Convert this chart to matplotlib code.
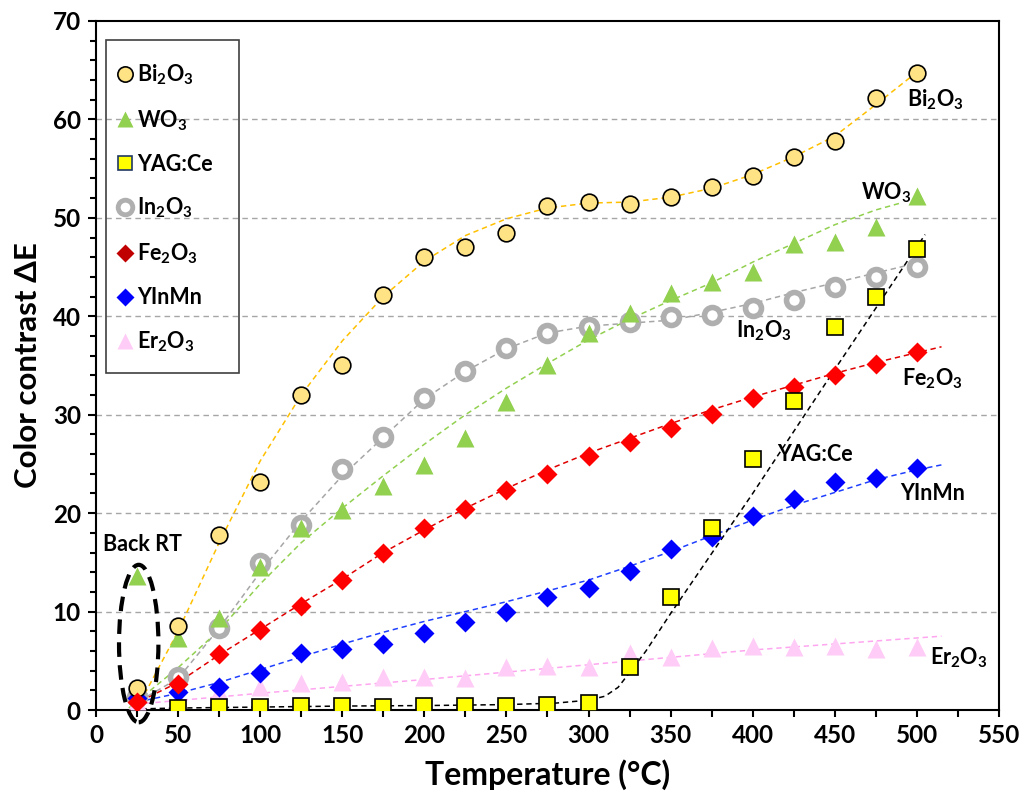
import numpy as np
import matplotlib
matplotlib.use('Agg')
import matplotlib.pyplot as plt
from matplotlib.lines import Line2D
from matplotlib.patches import Ellipse, Rectangle

plt.rcParams['font.family'] = ['Lato', 'DejaVu Sans']
plt.rcParams['font.weight'] = 'bold'
plt.rcParams['mathtext.fontset'] = 'custom'
plt.rcParams['mathtext.rm'] = 'Lato:bold'
plt.rcParams['mathtext.it'] = 'Lato:bold'
plt.rcParams['mathtext.bf'] = 'Lato:bold'

# measured points (temperature in C, delta E)
temps = [25, 50, 75, 100, 125, 150, 175, 200, 225, 250, 275, 300, 325, 350, 375, 400, 425, 450, 475, 500]
bi2o3 = [2.2, 8.5, 17.8, 23.2, 32.0, 35.0, 42.2, 46.0, 47.0, 48.5, 51.2, 51.6, 51.4, 52.1, 53.1, 54.2, 56.2, 57.8, 62.2, 64.7]
wo3 = [13.6, 7.3, 9.3, 14.5, 18.5, 20.3, 22.8, 24.9, 27.6, 31.3, 35.0, 38.3, 40.3, 42.4, 43.5, 44.5, 47.3, 47.5, 49.1, 52.2]
in2o3 = [1.3, 3.4, 8.3, 14.9, 18.8, 24.5, 27.7, 31.7, 34.4, 36.8, 38.3, 38.9, 39.4, 39.9, 40.1, 40.8, 41.7, 43.0, 44.0, 45.0]
fe2o3 = [0.8, 2.6, 5.7, 8.1, 10.6, 13.2, 15.9, 18.5, 20.4, 22.3, 24.0, 25.8, 27.2, 28.6, 30.1, 31.7, 32.8, 34.0, 35.2, 36.4]
yinmn = [1.2, 1.8, 2.3, 3.8, 5.8, 6.2, 6.7, 7.8, 8.9, 10.0, 11.5, 12.4, 14.1, 16.4, 17.6, 19.7, 21.4, 23.2, 23.6, 24.6]
er2o3 = [0.9, 1.2, 1.9, 2.3, 2.7, 2.8, 3.4, 3.4, 3.3, 4.4, 4.5, 4.4, 5.8, 5.4, 6.3, 6.5, 6.4, 6.5, 6.2, 6.4]
yag_temps = [50, 75, 100, 125, 150, 175, 200, 225, 250, 275, 300, 325, 350, 375, 400, 425, 450, 475, 500]
yag = [0.2, 0.3, 0.3, 0.4, 0.4, 0.35, 0.4, 0.4, 0.4, 0.5, 0.75, 4.4, 11.5, 18.5, 25.5, 31.4, 38.9, 42.0, 46.8]

# trend lines
bi_tr_t = [27, 50, 75, 100, 125, 150, 175, 200, 225, 250, 275, 300, 325, 350, 375, 400, 425, 450, 475, 500]
bi_tr = [0.8, 8.0, 17.0, 25.3, 32.0, 37.5, 42.0, 45.6, 48.2, 49.9, 51.0, 51.5, 51.6, 52.1, 53.0, 54.4, 56.2, 58.3, 61.5, 64.8]
wo_tr_t = [20, 50, 75, 100, 125, 150, 175, 200, 225, 250, 275, 300, 325, 350, 375, 400, 425, 450, 475, 490]
wo_tr = [0.2, 4.3, 8.1, 12.8, 17.0, 20.5, 23.8, 27.0, 30.0, 32.7, 35.2, 37.6, 39.7, 41.6, 43.4, 45.5, 47.4, 49.3, 50.8, 51.5]
in_tr_t = [22, 50, 75, 100, 125, 150, 175, 200, 225, 250, 275, 300, 325, 350, 375, 400, 425, 450, 475, 500]
in_tr = [0.5, 3.2, 8.3, 14.0, 19.2, 23.8, 27.7, 31.6, 34.4, 36.7, 38.3, 39.0, 39.3, 39.6, 40.4, 41.3, 42.4, 43.4, 44.4, 45.4]
fe_tr_t = [22, 50, 75, 100, 125, 150, 175, 200, 225, 250, 275, 300, 325, 350, 375, 400, 425, 450, 475, 500, 515]
fe_tr = [0.5, 2.8, 5.6, 8.2, 10.8, 13.3, 16.0, 18.3, 20.5, 22.5, 24.4, 26.1, 27.6, 29.1, 30.5, 31.8, 33.0, 34.2, 35.3, 36.3, 36.9]
yi_tr_t = [25, 50, 75, 100, 125, 150, 175, 200, 225, 250, 275, 300, 325, 350, 375, 400, 425, 450, 475, 500, 515]
yi_tr = [0.8, 1.7, 2.8, 4.1, 5.4, 6.7, 7.9, 9.0, 10.0, 11.0, 12.1, 13.2, 14.6, 16.1, 17.7, 19.3, 20.8, 22.1, 23.4, 24.4, 24.9]
er_tr_t = [25, 100, 200, 300, 400, 515]
er_tr = [0.6, 1.7, 3.1, 4.6, 6.1, 7.5]
yag_tr_t = [22, 50, 100, 150, 200, 250, 280, 300, 310, 318, 325, 335, 350, 400, 450, 505]
yag_tr = [0.1, 0.2, 0.3, 0.4, 0.45, 0.55, 0.7, 1.0, 1.4, 2.3, 3.8, 6.0, 9.8, 22.0, 34.6, 48.3]

fig = plt.figure(figsize=(10.27, 8), dpi=100)
ax = fig.add_axes([0.0935, 0.1125, 0.8792, 0.8613])

dash = (0, (3.5, 2.5))
lw = 1.1
ax.plot(er_tr_t, er_tr, color='#FFA6F0', lw=lw, ls=dash, zorder=2)
ax.plot(yi_tr_t, yi_tr, color='#1F3FFF', lw=lw, ls=dash, zorder=2)
ax.plot(fe_tr_t, fe_tr, color='#E00000', lw=lw, ls=dash, zorder=2)
ax.plot(in_tr_t, in_tr, color='#A6A6A6', lw=lw, ls=dash, zorder=2)
ax.plot(wo_tr_t, wo_tr, color='#92D050', lw=lw, ls=dash, zorder=2)
ax.plot(bi_tr_t, bi_tr, color='#FFC000', lw=lw, ls=dash, zorder=2)
ax.plot(yag_tr_t, yag_tr, color='#000000', lw=lw, ls=dash, zorder=2)

ax.plot(temps, er2o3, ls='none', marker='^', ms=13, mfc='#FFCCF7', mec='none', zorder=3)
ax.plot(temps, in2o3, ls='none', marker='o', ms=11.5, mfc='white', mec='#AFAFAF', mew=4.0, zorder=3)
ax.plot(temps, yinmn, ls='none', marker='D', ms=10, mfc='#0000FF', mec='none', zorder=3)
ax.plot(temps, wo3, ls='none', marker='^', ms=13, mfc='#92D050', mec='none', zorder=4)
ax.plot(temps, bi2o3, ls='none', marker='o', ms=12, mfc='#FFE385', mec='black', mew=1.2, zorder=4)
ax.plot(temps, fe2o3, ls='none', marker='D', ms=10, mfc='#FF0000', mec='none', zorder=4)
ax.plot(yag_temps, yag, ls='none', marker='s', ms=11, mfc='#FFFF00', mec='black', mew=1.2, zorder=5)

ax.set_xlim(0, 550)
ax.set_ylim(0, 70)
ax.set_xticks([0, 50, 100, 150, 200, 250, 300, 350, 400, 450, 500, 550])
ax.set_xticks([25, 75, 125, 175, 225, 275, 325, 375, 425, 475, 525], minor=True)
ax.set_yticks([0, 10, 20, 30, 40, 50, 60, 70])
ax.set_yticks(np.arange(2, 70, 2), minor=True)
ax.tick_params(axis='both', which='major', labelsize=17.5, width=1.5, length=6, direction='out', pad=5)
ax.tick_params(axis='y', which='minor', width=1.5, length=4, direction='out')
ax.tick_params(axis='x', which='minor', width=1.5, length=5, direction='out')
ax.tick_params(axis='x', which='major', length=5)
for lab in ax.get_xticklabels() + ax.get_yticklabels():
    lab.set_fontweight('bold')
for s in ax.spines.values():
    s.set_linewidth(1.5)

for g in [10, 20, 30, 40, 50, 60]:
    ax.axhline(g, color='#A6A6A6', lw=1.0, ls=(0, (4, 3)), zorder=1)

ax.set_xlabel('Temperature (°C)', fontsize=23, fontweight='bold', labelpad=9)
ax.set_ylabel('Color contrast ΔE', fontsize=22.5, fontweight='bold', labelpad=8)

# end-of-curve labels
fs = 15.5
ax.text(494, 62, r'Bi$_2$O$_3$', fontsize=fs, va='center', ha='left')
ax.text(466, 52.6, r'WO$_3$', fontsize=fs, va='center', ha='left')
ax.text(390, 38.5, r'In$_2$O$_3$', fontsize=fs, va='center', ha='left')
ax.text(491, 33.7, r'Fe$_2$O$_3$', fontsize=fs, va='center', ha='left')
ax.text(415, 26.0, 'YAG:Ce', fontsize=fs, va='center', ha='left')
ax.text(490, 22.0, 'YInMn', fontsize=fs, va='center', ha='left')
ax.text(508, 5.3, r'Er$_2$O$_3$', fontsize=fs, va='center', ha='left')

ax.text(4, 16.8, 'Back RT', fontsize=15.5, va='center', ha='left')
ax.add_patch(Ellipse((26, 6.75), 24, 16.0, fill=False, ec='black', lw=3.0,
                     ls=(0, (3.5, 2.0)), clip_on=False, zorder=6))

handles = [
    Line2D([], [], ls='none', marker='o', ms=11, mfc='#FFE385', mec='black', mew=1.2),
    Line2D([], [], ls='none', marker='^', ms=12, mfc='#92D050', mec='none'),
    Line2D([], [], ls='none', marker='s', ms=10, mfc='#FFFF00', mec='#203864', mew=1.2),
    Line2D([], [], ls='none', marker='o', ms=10.5, mfc='white', mec='#AFAFAF', mew=3.5),
    Line2D([], [], ls='none', marker='D', ms=9, mfc='#C00000', mec='none'),
    Line2D([], [], ls='none', marker='D', ms=9, mfc='#0000FF', mec='none'),
    Line2D([], [], ls='none', marker='^', ms=12, mfc='#FFCCF7', mec='none'),
]
labels = [r'Bi$_2$O$_3$', r'WO$_3$', 'YAG:Ce', r'In$_2$O$_3$', r'Fe$_2$O$_3$', 'YInMn', r'Er$_2$O$_3$']
leg = ax.legend(handles, labels, loc='upper left', bbox_to_anchor=(0.022, 0.940),
                frameon=False, fontsize=15.5, labelspacing=0.98, handlelength=0.8,
                handletextpad=0.2, borderpad=0, borderaxespad=0)
ax.add_patch(Rectangle((0.011, 0.489), 0.147, 0.483, transform=ax.transAxes,
                       fill=False, ec='#404040', lw=1.2, zorder=7))

fig.savefig('out.png', dpi=100)
